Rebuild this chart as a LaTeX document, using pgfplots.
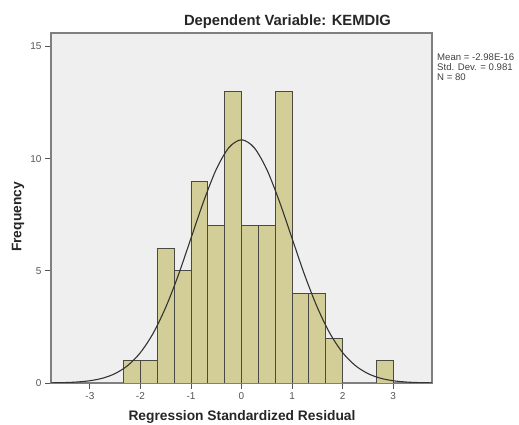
\documentclass[border=0pt]{standalone}
\usepackage{pgfplots}
\pgfplotsset{compat=1.18}
\usepackage{fontspec}
\setmainfont{Liberation Sans}
\definecolor{bgc}{HTML}{EFEFEF}
\definecolor{barc}{HTML}{D3CE97}
\definecolor{edgec}{HTML}{4A4A44}
\definecolor{framec}{HTML}{7F7F7F}
\definecolor{tickc}{HTML}{555555}
\begin{document}
\begin{tikzpicture}
\useasboundingbox (0pt,0pt) rectangle (519pt,425pt);
\begin{axis}[
  at={(51pt,42pt)}, anchor=south west,
  scale only axis, width=381pt, height=350pt,
  xmin=-3.77, xmax=3.77, ymin=0, ymax=15.6,
  xtick={-3,-2,-1,0,1,2,3}, ytick={0,5,10,15},
  tick align=outside, tick pos=left,
  major tick length=6pt,
  axis line style={draw=framec, line width=1.4pt},
  every tick/.style={draw=tickc, line width=0.9pt},
  axis background/.style={fill=bgc},
  tick label style={font=\fontsize{10}{12}\selectfont, text=tickc},
  /pgf/number format/assume math mode=true,
  clip=true,
]
\addplot[ybar interval, fill=barc, draw=edgec, line width=0.9pt] coordinates {
(-2.3333,1) (-2,1) (-1.6667,6) (-1.3333,5) (-1,9) (-0.6667,7) (-0.3333,13)
(0,7) (0.3333,7) (0.6667,13) (1,4) (1.3333,4) (1.6667,2) (2,0)};
\addplot[ybar interval, fill=barc, draw=edgec, line width=0.9pt] coordinates {
(2.6667,1) (3,0)};
\addplot[smooth, draw=black!80, line width=1.1pt] coordinates {
(-3.77,0.0068) (-3.5,0.0186) (-3.25,0.0448) (-3,0.101) (-2.75,0.213) (-2.5,0.422)
(-2.25,0.782) (-2,1.357) (-1.75,2.21) (-1.5,3.37) (-1.25,4.81) (-1,6.45)
(-0.75,8.09) (-0.5,9.52) (-0.25,10.49) (0,10.84) (0.25,10.49) (0.5,9.52)
(0.75,8.09) (1,6.45) (1.25,4.81) (1.5,3.37) (1.75,2.21) (2,1.357) (2.25,0.782)
(2.5,0.422) (2.75,0.213) (3,0.101) (3.25,0.0448) (3.5,0.0186) (3.77,0.0068)};
\end{axis}
\node[font=\fontsize{14.8}{17}\selectfont\bfseries, text=black!85] at (287.5pt,403pt) {Dependent Variable: KEMDIG};
\node[font=\fontsize{13.8}{16}\selectfont\bfseries, text=black!85] at (242pt,8pt) {Regression Standardized Residual};
\node[font=\fontsize{13.8}{16}\selectfont\bfseries, text=black!85, rotate=90] at (18pt,208pt) {Frequency};
\node[font=\fontsize{9.6}{10}\selectfont, text=black!75, anchor=north west, align=left, inner sep=0pt] at (437pt,371pt) {Mean = -2.98E-16\\Std. Dev. = 0.981\\N = 80};
\end{tikzpicture}
\end{document}
